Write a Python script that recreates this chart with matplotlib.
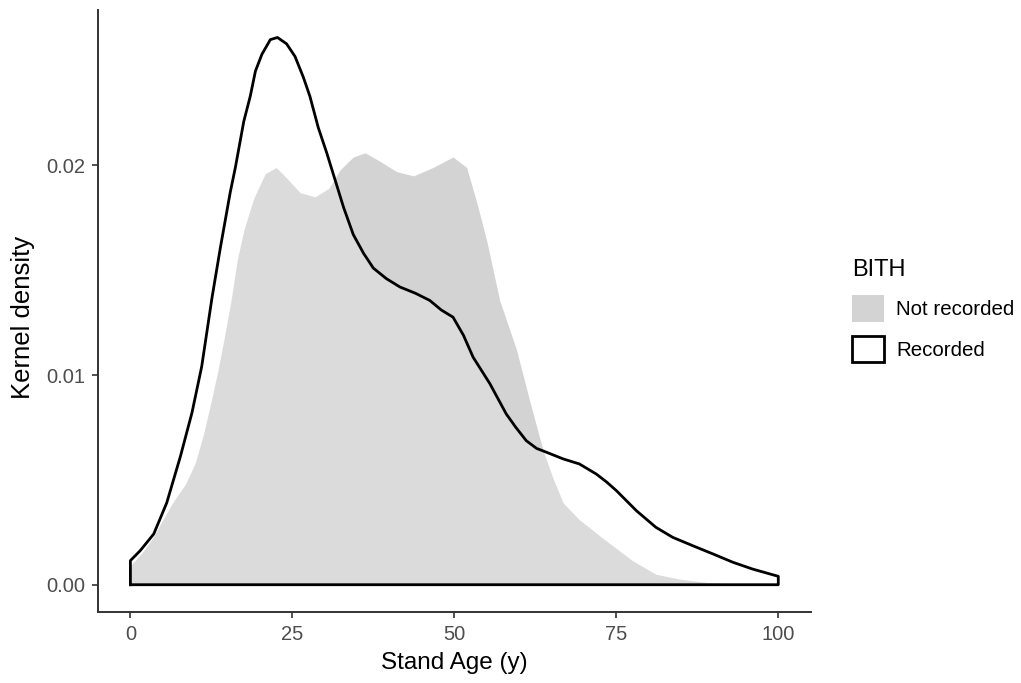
import numpy as np
import matplotlib
matplotlib.use("Agg")
import matplotlib.pyplot as plt
from matplotlib.patches import Patch

plt.rcParams['font.family'] = ['Liberation Sans', 'DejaVu Sans']

# density curves (stand age in years, kernel density)
rec_x = [0, 1.5, 3.6, 5.6, 7.7, 9.5, 11.0, 12.6, 13.9, 15.4, 16.2, 17.5, 18.5, 19.3,
         20.3, 21.6, 22.7, 24.1, 25.4, 26.7, 27.7, 29.0, 30.3, 31.6, 32.9, 34.4, 36.0,
         37.5, 39.5, 41.6, 44.0, 46.2, 48.0, 49.8, 51.4, 52.9, 55.5, 58.0, 59.5, 61.1,
         62.7, 64.2, 66.8, 69.3, 71.9, 73.5, 75.0, 78.1, 81.1, 83.7, 86.8, 89.9, 93.0,
         96.0, 100]
rec_y = [0.00115, 0.00162, 0.00242, 0.0039, 0.0061, 0.0082, 0.0104, 0.0137, 0.0161,
         0.0187, 0.0199, 0.0221, 0.0233, 0.0245, 0.0253, 0.0260, 0.0261, 0.0258, 0.0252,
         0.0242, 0.0233, 0.0218, 0.0206, 0.0193, 0.0180, 0.0167, 0.0158, 0.0151, 0.0146,
         0.0142, 0.0139, 0.01356, 0.0131, 0.01276, 0.0119, 0.01085, 0.00958, 0.00815,
         0.0075, 0.00687, 0.0065, 0.00632, 0.0060, 0.00576, 0.00528, 0.0049, 0.00449,
         0.00353, 0.00274, 0.00226, 0.00186, 0.00147, 0.00107, 0.00075, 0.00040]

nr_x = [0, 2, 3.6, 5, 6.7, 8.5, 10, 11.3, 12.5, 13.5, 14.5, 15.5, 16.5, 17.5, 19.0, 20.8,
        22.5, 24.1, 26.2, 28.5, 30.6, 32.4, 34.4, 36.2, 38.5, 41.1, 43.7, 46.7, 49.8,
        51.9, 53.4, 55.0, 57.0, 59.6, 61.6, 63.7, 65.2, 66.8, 69.3, 73.4, 77.5, 81.1,
        84.7, 88.9, 94, 100]
nr_y = [0.0009, 0.0016, 0.0023, 0.0031, 0.0040, 0.0048, 0.0058, 0.0072, 0.0088, 0.0102,
        0.0118, 0.0135, 0.0155, 0.0169, 0.0184, 0.0196, 0.0199, 0.0194, 0.0187, 0.0185,
        0.0189, 0.0198, 0.0204, 0.0206, 0.0202, 0.0197, 0.0195, 0.0199, 0.0204, 0.0199,
        0.0183, 0.0164, 0.01356, 0.0112, 0.0088, 0.0064, 0.0051, 0.0039, 0.0031, 0.0021,
        0.00115, 0.0005, 0.00027, 0.00011, 0.00003, 0.00001]

x_ticks = [0, 25, 50, 75, 100]
y_ticks = [0.00, 0.01, 0.02]
y_tick_labels = ['0.00', '0.01', '0.02']
groups = ['Not recorded', 'Recorded']

fig = plt.figure(figsize=(10.21, 6.83), dpi=100)
ax = fig.add_axes([0.096, 0.104, 0.698, 0.881])

grey = '#D3D3D3'
ax.fill_between(nr_x, 0, nr_y, color=grey, linewidth=0, zorder=1)
ax.fill_between(rec_x, 0, rec_y, color='white', alpha=0.2, linewidth=0, zorder=2)

# outline of the recorded area, closed along the baseline like ggplot does
ox = [rec_x[0]] + rec_x + [rec_x[-1], rec_x[0]]
oy = [0] + rec_y + [0, 0]
ax.plot(ox, oy, color='black', lw=2.0, solid_joinstyle='round', zorder=3)

ax.set_xlim(-5, 105)
ax.set_ylim(-0.0013, 0.0274)
ax.set_xticks(x_ticks)
ax.set_yticks(y_ticks)
ax.set_yticklabels(y_tick_labels)
for s in ['top', 'right']:
    ax.spines[s].set_visible(False)
for s in ['left', 'bottom']:
    ax.spines[s].set_color('#333333')
    ax.spines[s].set_linewidth(1.4)
ax.tick_params(axis='both', length=4.5, width=1.2, color='#333333',
               labelcolor='#4D4D4D', labelsize=14.5, pad=5)

ax.set_xlabel('Stand Age (y)', fontsize=17.5, color='black', labelpad=6)
ax.set_ylabel('Kernel density', fontsize=18.5, color='black')
ax.yaxis.set_label_coords(-0.088, 0.49)

handles = [Patch(facecolor=grey, edgecolor='none'),
           Patch(facecolor='white', edgecolor='black', linewidth=2.0)]
leg = ax.legend(handles, groups, title='BITH', loc='upper left',
                bbox_to_anchor=(0.8345, 0.621), bbox_transform=fig.transFigure,
                frameon=False, fontsize=14.8, title_fontsize=17,
                borderpad=0, borderaxespad=0,
                handlelength=1.55, handleheight=1.6, labelspacing=0.7,
                handletextpad=0.6, alignment='left')

fig.savefig('out.png', dpi=100)
